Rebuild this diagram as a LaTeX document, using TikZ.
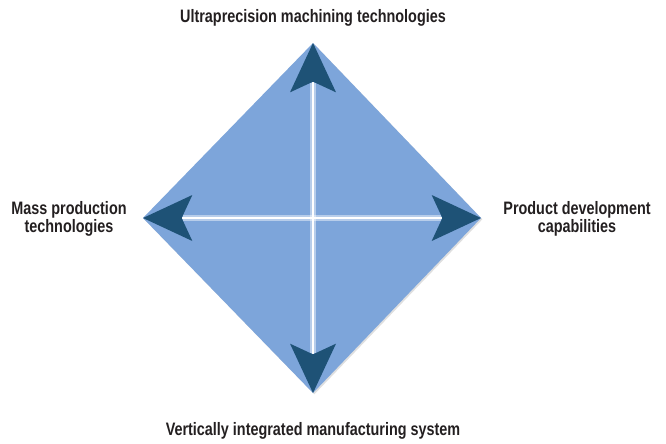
\documentclass[tikz,border=0pt]{standalone}
\usepackage{fontspec}
\newfontfamily\labelfont[FakeStretch=0.8]{Liberation Sans}
\usetikzlibrary{positioning,arrows.meta,shadows}
\definecolor{diamondblue}{HTML}{7DA5DA}
\definecolor{arrowblue}{HTML}{1E5276}
\definecolor{labelgray}{HTML}{231F20}

\begin{document}
\begin{tikzpicture}[x=0.75pt, y=-0.75pt,
            arrowstyle/.style={draw=white, line width=2.2pt, -{Stealth[length=37pt, width=34.5pt, inset=8pt, line width=0pt, color=arrowblue]}},
            glowstyle/.style={draw=white, opacity=0.45, line width=4.5pt, shorten >=30pt}]
            % A label style
            \tikzstyle{labelnode} = [text=labelgray, font=\labelfont\bfseries\fontsize{13.5}{13.5}\selectfont, align=center, inner sep=0pt]
            \useasboundingbox (0,0) rectangle (666,443);
            % Corners of the diamond
            \coordinate (C) at (313,218);
            \coordinate (T) at (313,43);
            \coordinate (B) at (313,393);
            \coordinate (L) at (143,218);
            \coordinate (R) at (481,218);
            \fill [diamondblue, drop shadow={shadow xshift=1pt, shadow yshift=-1pt, opacity=0.25}] (T) -- (R) -- (B) -- (L) -- cycle;

            % Soft white cross under the arrows
            \foreach \tip in {T,B,L,R}
                \draw [glowstyle] (C) -- (\tip);
            % Draw the arrows out to the four corners
            \foreach \tip in {T,B,L,R}
                \draw [arrowstyle] (C) -- (\tip);

            % Define the labels
            \node (UM) [labelnode, anchor=base] at (313,22) {Ultraprecision machining technologies};
            \node (VI) [labelnode, anchor=base] at (313,435) {Vertically integrated manufacturing system};
            \node (MP) [labelnode] at (69,219) {Mass production\\technologies};
            \node (PD) [labelnode] at (577,219) {Product development\\capabilities};
\end{tikzpicture}
\end{document}
